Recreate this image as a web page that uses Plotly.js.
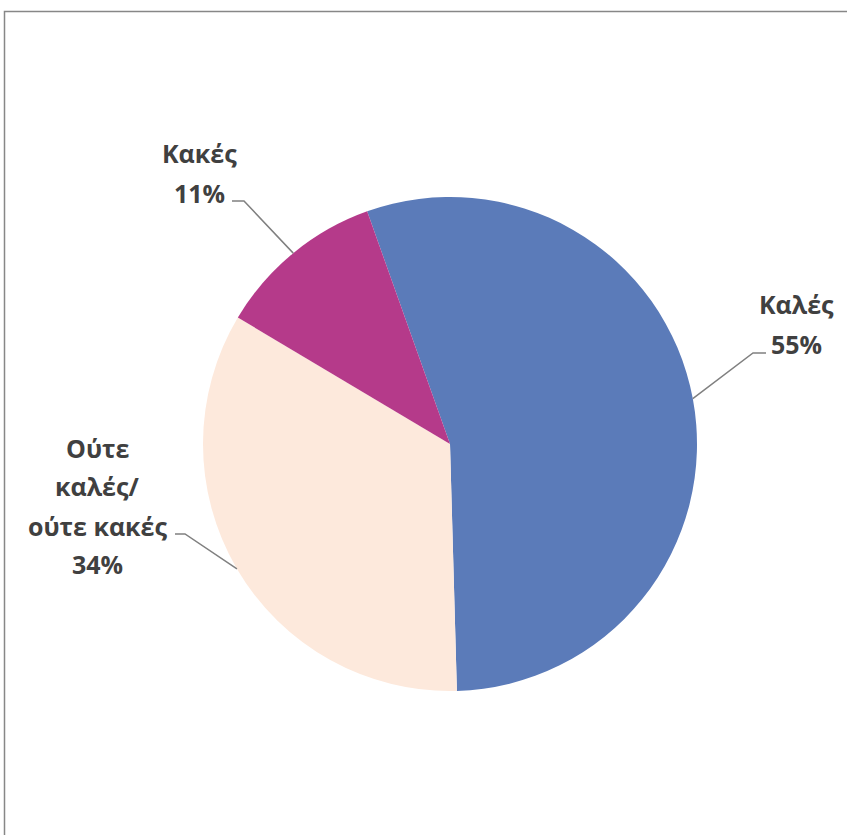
<!DOCTYPE html>
<html>
<head>
<meta charset="utf-8">
<script src="https://cdn.plot.ly/plotly-3.0.1.min.js"></script>
<style>
html,body{margin:0;padding:0;background:#fff;}
#chart{width:847px;height:835px;}
</style>
</head>
<body>
<div id="chart"></div>
<script>
// Data
const categories = ["Καλές", "Ούτε καλές/ ούτε κακές", "Κακές"];
const values = [55, 34, 11];
const colors = ["#5B7BB9", "#FDE9DC", "#B53A8A"];
// label lines per slice (text shown beside the pie)
const labelLines = [
  ["Καλές", "55%"],
  ["Ούτε", "καλές/", "ούτε κακές", "34%"],
  ["Κακές", "11%"]
];

const W = 847, H = 835;
const cx = 450, cy = 444, R = 247;
const rotation = -19.6;

const domX = [(cx - R) / W, (cx + R) / W];
const domY = [1 - (cy + R) / H, 1 - (cy - R) / H];

const px = x => x / W;
const py = y => 1 - y / H;

// Label layout (positions of text blocks, in pixels)
const labelCfg = [
  {x: 796, baselines: [313, 353], elbow: [753, 353], end: [766, 353]},
  {x: 97, baselines: [457, 495, 535, 573], elbow: [185, 534], end: [175, 534]},
  {x: 199, baselines: [162, 202], elbow: [244, 201], end: [232, 201]}
];

const total = values.reduce((a, b) => a + b, 0);
const annotations = [];
const shapes = [];
let acc = 0;
values.forEach((v, i) => {
  const mid = rotation + (acc + v / 2) / total * 360;
  acc += v;
  const a = mid * Math.PI / 180;
  const ex = cx + R * Math.sin(a);
  const ey = cy - R * Math.cos(a);
  const cfg = labelCfg[i];
  shapes.push({
    type: 'path', xref: 'paper', yref: 'paper',
    path: `M ${px(ex)} ${py(ey)} L ${px(cfg.elbow[0])} ${py(cfg.elbow[1])} L ${px(cfg.end[0])} ${py(cfg.end[1])}`,
    line: {color: '#808080', width: 1.5}
  });
  labelLines[i].forEach((t, k) => {
    annotations.push({
      xref: 'paper', yref: 'paper',
      x: px(cfg.x), y: py(cfg.baselines[k] - 9),
      xanchor: 'center', yanchor: 'middle',
      text: '<b>' + t + '</b>', showarrow: false,
      font: {family: 'Open Sans, sans-serif', size: 25, color: '#404040'}
    });
  });
});

// outer frame (only left and top edges are visible)
shapes.push({
  type: 'path', xref: 'paper', yref: 'paper',
  path: `M ${px(4.5)} 0 L ${px(4.5)} ${py(11.5)} L 1 ${py(11.5)}`,
  line: {color: '#878787', width: 1.5}
});

const trace = {
  type: 'pie',
  labels: categories,
  values: values,
  sort: false,
  direction: 'clockwise',
  rotation: rotation,
  marker: {colors: colors, line: {width: 0}},
  textinfo: 'none',
  hoverinfo: 'label+percent',
  domain: {x: domX, y: domY},
  showlegend: false
};

Plotly.newPlot('chart', [trace], {
  width: W, height: H,
  margin: {l: 0, r: 0, t: 0, b: 0},
  paper_bgcolor: '#fff',
  showlegend: false,
  annotations: annotations,
  shapes: shapes
}, {displayModeBar: false, staticPlot: true});
</script>
</body>
</html>
